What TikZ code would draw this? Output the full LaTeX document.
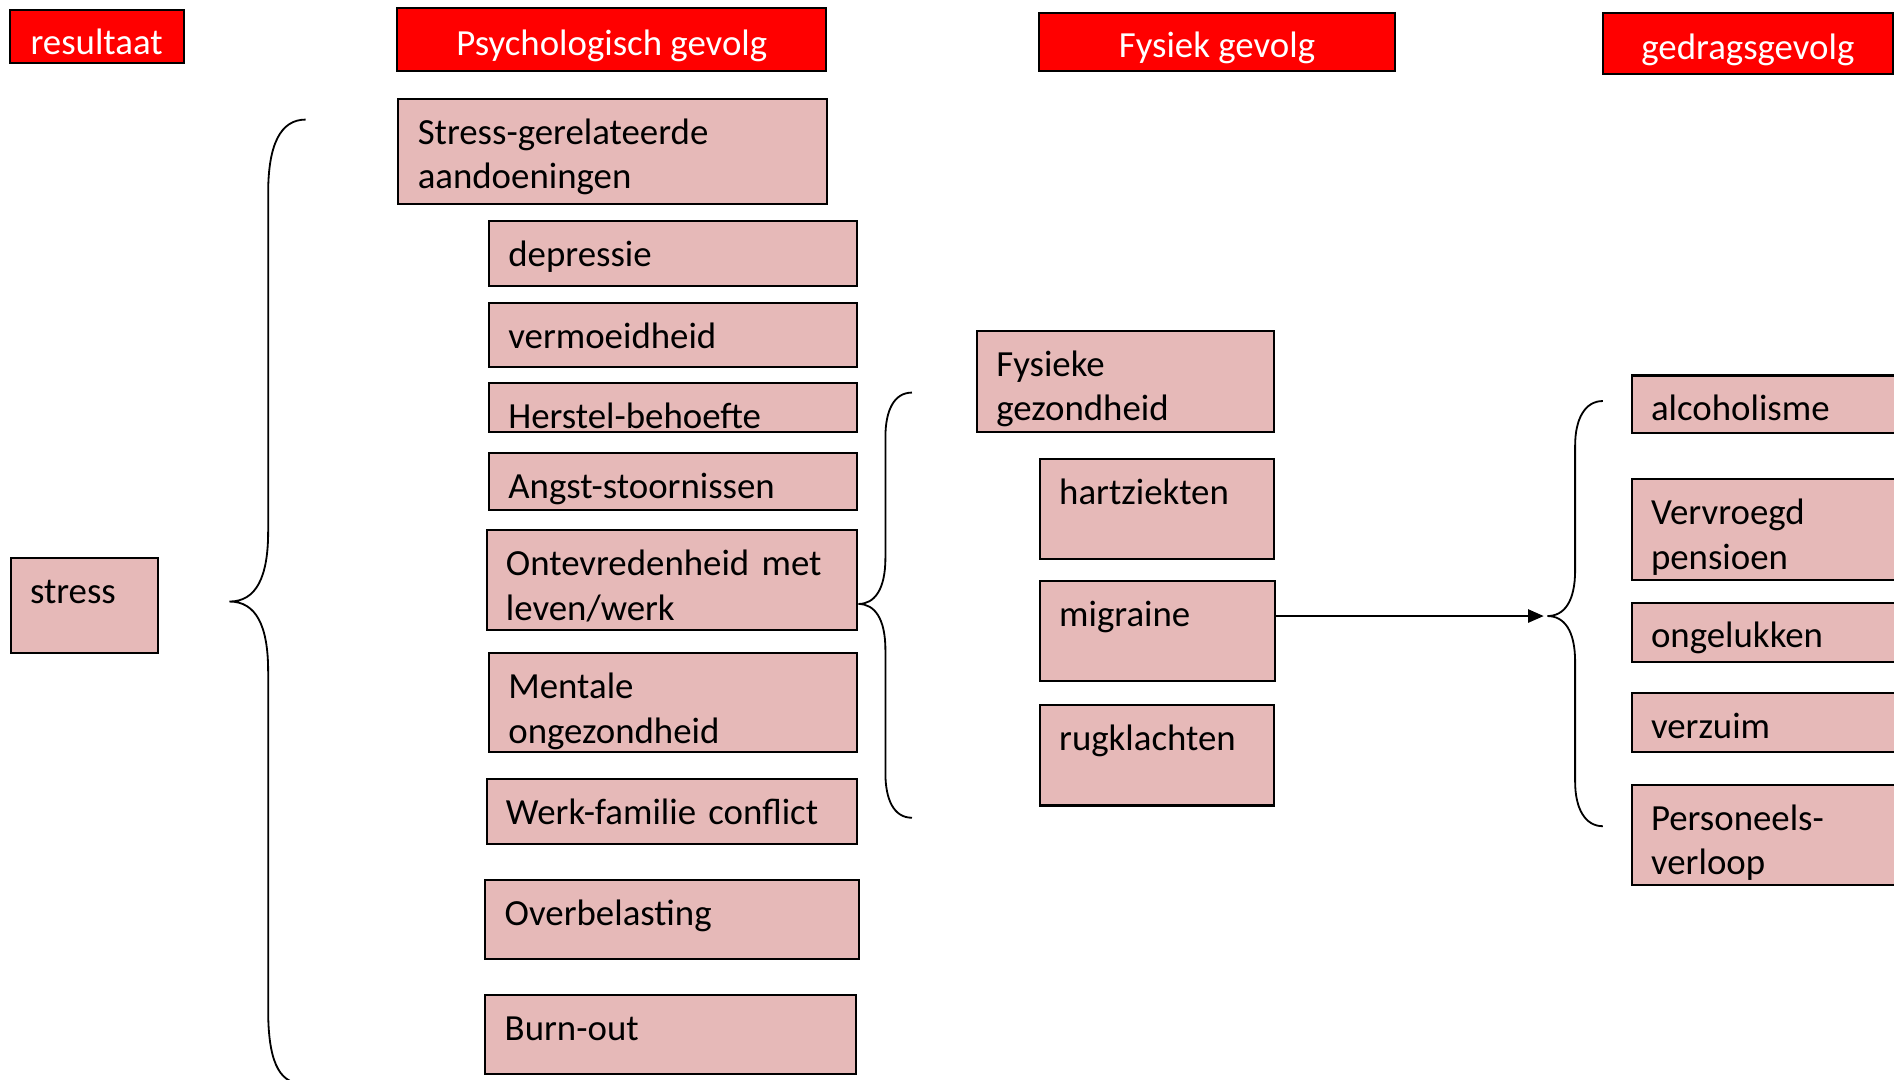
\documentclass[tikz,border=0pt]{standalone}
\usepackage{fontspec}
\setmainfont{Carlito}
\usetikzlibrary{arrows.meta}
\definecolor{kopRood}{HTML}{FF0000}
\definecolor{vakRoze}{HTML}{E6B9B8}
\tikzset{
    kop/.style={ % red column headers, white text
        draw=black, line width=1.7pt, fill=kopRood, text=white,
        text height=27pt, text depth=1pt, inner sep=0pt
    },
    vak/.style={ % pink boxes, text sits in the top left corner
        draw=black, line width=1.7pt, fill=vakRoze, anchor=north west,
        align=left, inner xsep=16pt, inner ysep=0pt, text height=37.5pt
    },
    accolade/.style={draw, line width=1.5pt},
    every edge/.style={ % the one arrow
        draw, -{Triangle[length=13pt,width=11pt]}, line width=1.5pt, shorten >=3pt
    }
}
\begin{document}
\begin{tikzpicture}[x=1pt, y=-1pt, font=\fontsize{30.5}{37}\selectfont]
    \useasboundingbox (0,0) rectangle (1568,894);
    \clip (0,0) rectangle (1568,894);

    % headers
    \node[kop, minimum width=144pt, minimum height=44pt, text height=30pt, text depth=0pt] (res) at (80,30) {resultaat};
    \node[kop, minimum width=355pt, minimum height=52pt] (psy)  at (506.5,33)  {Psychologisch gevolg};
    \node[kop, minimum width=295pt, minimum height=48pt] (fys)  at (1007.5,35) {Fysiek gevolg};
    \node[kop, minimum width=240pt, minimum height=50pt] (gedr) at (1447,36)   {gedragsgevolg};

    % resultaat
    \node[vak, text width=90pt,  text depth=41.5pt] (stress) at (8,461) {stress};

    % psychologisch
    \node[vak, text width=323pt, text depth=49.5pt] (sga)   at (329,81)  {Stress-gerelateerde\\aandoeningen};
    \node[vak, text width=273pt, text depth=16.5pt] (depr)  at (404,182) {depressie};
    \node[vak, text width=273pt, text depth=15.5pt] (verm)  at (404,250) {vermoeidheid};
    \node[vak, text width=273pt, text depth=3.5pt]  (herst) at (404,316) {Herstel-behoefte};
    \node[vak, text width=273pt, text depth=9.5pt]  (angst) at (404,374) {Angst-stoornissen};
    \node[vak, text width=275pt, text depth=45.5pt] (ontev) at (402,438) {Ontevredenheid met\\leven/werk};
    \node[vak, text width=273pt, text depth=44.5pt] (ment)  at (404,540) {Mentale\\ongezondheid};
    \node[vak, text width=275pt, text depth=16.5pt] (wfc)   at (402,644) {Werk-familie conflict};
    \node[vak, text width=277pt, text depth=27.5pt] (overb) at (401,728) {Overbelasting};
    \node[vak, text width=275pt, text depth=27.5pt] (burn)  at (401,823) {Burn-out};

    % fysiek
    \node[vak, text width=214pt, text depth=46.5pt] (fysgez) at (808,273) {Fysieke\\gezondheid};
    \node[vak, text width=162pt, text depth=45.5pt] (hart)   at (860,379) {hartziekten};
    \node[vak, text width=163pt, text depth=45.5pt] (migr)   at (860,480) {migraine};
    \node[vak, text width=162pt, text depth=45.5pt] (rug)    at (860,583) {rugklachten};

    % gedrag
    \node[vak, text width=228pt, text depth=10.5pt] (alc)   at (1350,310) {alcoholisme};
    \node[vak, text width=228pt, text depth=45.5pt] (vervr) at (1350,396) {Vervroegd\\pensioen};
    \node[vak, text width=228pt, text depth=11.5pt] (ongel) at (1350,498) {ongelukken};
    \node[vak, text width=228pt, text depth=11.5pt] (verz)  at (1350,573) {verzuim};
    \node[vak, text width=228pt, text depth=45.5pt] (perso) at (1350,649) {Personeels-\\verloop};

    % accolades
    \coordinate (psytip) at (190,498);
    \coordinate (fystip) at (ontev.east |- 0,500);
    \coordinate (gtip)   at (1281,510);
    \draw[accolade] (253,99) .. controls (232,99) and (222,120) .. (222,160) -- (222,440)
        .. controls (222,478) and (212,498) .. (psytip)
        .. controls (212,498) and (222,518) .. (222,556) -- (222,836)
        .. controls (222,876) and (230,897) .. (250,897);
    \draw[accolade] (755,325) .. controls (740,325) and (733,340) .. (733,362) -- (733,462)
        .. controls (733,488) and (724,500) .. (fystip)
        .. controls (724,500) and (733,512) .. (733,538) -- (733,640)
        .. controls (733,662) and (740,677) .. (755,677);
    \draw[accolade] (1327,332) .. controls (1312,332) and (1304,347) .. (1304,369) -- (1304,472)
        .. controls (1304,498) and (1295,510) .. (gtip)
        .. controls (1295,510) and (1304,522) .. (1304,548) -- (1304,647)
        .. controls (1304,669) and (1312,684) .. (1327,684);

    \draw (migr.east |- gtip) edge (gtip);
\end{tikzpicture}
\end{document}
